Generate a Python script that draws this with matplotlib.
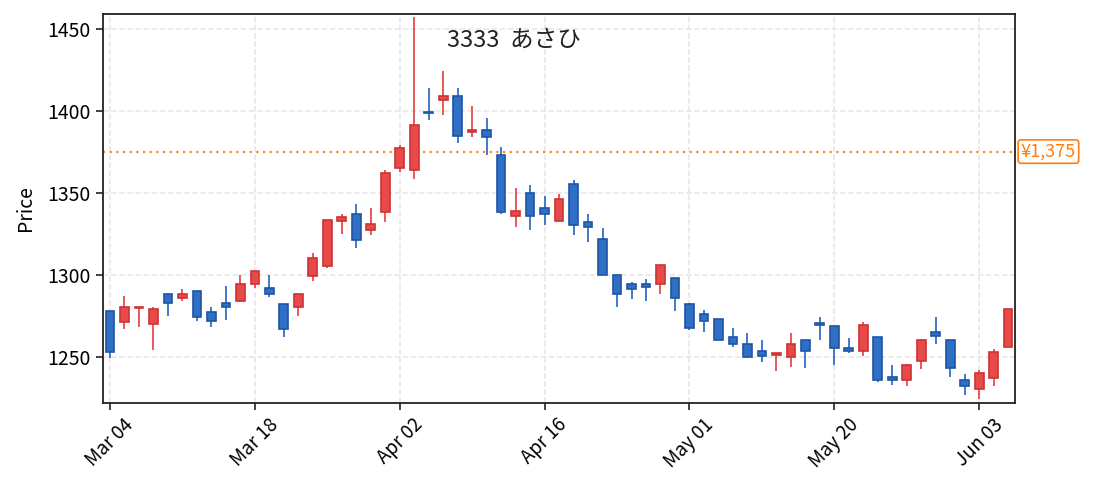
import matplotlib.pyplot as plt
from matplotlib.patches import Rectangle
from matplotlib.transforms import blended_transform_factory

plt.rcParams['font.family'] = ['Noto Sans CJK JP', 'DejaVu Sans']

# daily prices, one entry per trading day (Mar 04 .. Jun 05)
opens = [1278, 1271, 1279.5, 1270, 1288, 1286, 1290, 1277, 1283, 1284,
         1294, 1292, 1282, 1280, 1299, 1305.5, 1332.5, 1337, 1327.5, 1338,
         1365, 1364, 1399, 1406.5, 1409, 1387, 1388, 1373, 1335.5, 1350,
         1340.5, 1332.5, 1355, 1332, 1322, 1299.5, 1294, 1294, 1294.5, 1298,
         1282, 1276, 1273, 1262, 1258, 1253.5, 1251, 1250, 1260, 1270,
         1269, 1255, 1253.5, 1262, 1237.5, 1235.5, 1247.5, 1265, 1260, 1236,
         1230, 1237, 1256]
highs = [1278, 1287, 1280.5, 1280, 1288, 1291.5, 1290, 1280, 1293, 1299.5,
         1302, 1299.5, 1282, 1288.5, 1313, 1333, 1337, 1343, 1340.5, 1364,
         1379, 1457, 1414, 1424, 1414, 1403, 1395.5, 1377.5, 1352.5, 1354.5,
         1348, 1349, 1357.5, 1337, 1328.5, 1299.5, 1295.5, 1297.5, 1306, 1298,
         1282.5, 1278.5, 1273, 1267.5, 1264.5, 1260, 1252, 1264.5, 1260, 1274,
         1269, 1261.5, 1271, 1262, 1245, 1245.5, 1261, 1274, 1260, 1239.5,
         1242, 1254.5, 1279]
lows = [1249, 1267, 1268, 1254, 1275, 1284, 1272, 1268, 1272.5, 1283.5,
        1292, 1286.5, 1262, 1275, 1296, 1304, 1325, 1316.5, 1324, 1332,
        1362.5, 1358, 1394, 1397, 1380, 1384, 1373, 1337, 1329, 1327,
        1330, 1332.5, 1324, 1320, 1299.5, 1280, 1285, 1284, 1288, 1278,
        1266, 1265, 1260, 1256, 1249, 1247, 1241, 1244, 1243, 1260,
        1245, 1252, 1250.5, 1234.5, 1233, 1232, 1242.5, 1258, 1237.5, 1226.5,
        1224, 1232, 1256]
closes = [1253, 1280.5, 1280.5, 1279, 1283, 1288, 1274, 1272, 1280.5, 1294,
          1302, 1288.5, 1267, 1288.5, 1310, 1333, 1335, 1321, 1331, 1362,
          1377, 1391, 1398.5, 1409, 1384.5, 1388, 1384, 1338, 1339, 1335.5,
          1337, 1346, 1330.5, 1329, 1299.5, 1288, 1291.5, 1292.5, 1306, 1286,
          1267.5, 1272, 1260, 1257.5, 1249.5, 1250.5, 1252, 1258, 1253.5, 1269.5,
          1255, 1253.5, 1269.5, 1235.5, 1236, 1245, 1260, 1262.5, 1243, 1232,
          1240, 1253, 1279]

tick_pos = [0, 10, 20, 30, 40, 50, 60]
tick_labels = ['Mar 04', 'Mar 18', 'Apr 02', 'Apr 16', 'May 01', 'May 20', 'Jun 03']

ref_price = 1375
title = '3333  あさひ'

up_face, up_edge = '#e84a4a', '#cc3333'
dn_face, dn_edge = '#2f70c6', '#1f55a5'

fig, ax = plt.subplots(figsize=(10.93, 4.91), dpi=100)
fig.subplots_adjust(left=0.094, right=0.929, top=0.972, bottom=0.18)

w = 0.6
for i in range(len(opens)):
    o, h, l, c = opens[i], highs[i], lows[i], closes[i]
    if c >= o:
        fc, ec = up_face, up_edge
    else:
        fc, ec = dn_face, dn_edge
    ax.vlines(i, l, h, color=fc, linewidth=1.3, zorder=2)
    bot = min(o, c)
    hgt = max(abs(c - o), 0.8)
    ax.add_patch(Rectangle((i - w / 2, bot), w, hgt, facecolor=fc,
                           edgecolor=ec, linewidth=1.2, zorder=3))

ax.axhline(ref_price, color='#ff7f0e', linestyle=(0, (1, 2.2)), linewidth=1.5, zorder=1)
trans = blended_transform_factory(ax.transAxes, ax.transData)
ax.text(1.006, ref_price, '¥1,375', transform=trans, ha='left', va='center',
        color='#ff7f0e', fontsize=13,
        bbox=dict(boxstyle='round,pad=0.15', fc='white', ec='#ff7f0e', lw=1.2))

ax.text(0.451, 0.933, title, transform=ax.transAxes, ha='center', va='center',
        fontsize=17, color='#222222')

ax.set_xlim(-0.5, 62.5)
ax.set_ylim(1222, 1459)
ax.set_yticks([1250, 1300, 1350, 1400, 1450])
ax.set_xticks(tick_pos)
ax.set_xticklabels(tick_labels, rotation=45, fontsize=13.5)
ax.tick_params(axis='y', labelsize=14)
ax.tick_params(length=5, width=1.2, color='#222222')
ax.set_ylabel('Price', fontsize=14, labelpad=8)
ax.grid(True, linestyle='--', color='#e6e6e6', linewidth=1.1, zorder=0)
ax.set_axisbelow(True)
for s in ax.spines.values():
    s.set_linewidth(1.3)
    s.set_color('#222222')

plt.savefig('out.png')
